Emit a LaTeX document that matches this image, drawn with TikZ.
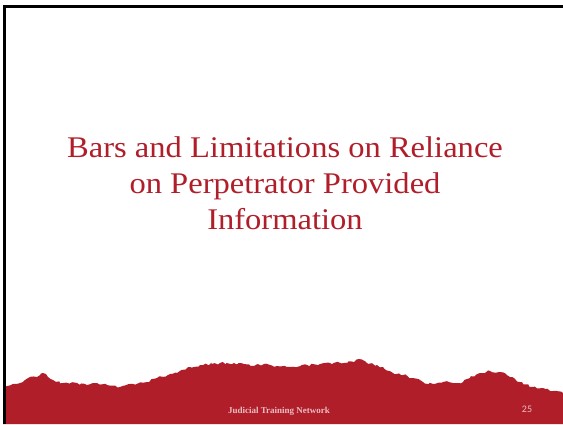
\documentclass[tikz,border=0pt]{standalone}
\usepackage{fontspec}
\usetikzlibrary{decorations.pathmorphing}
\newfontfamily\titlefont{Liberation Serif}
\newfontfamily\footsans{Carlito}
\definecolor{jtnred}{RGB}{176,30,42}
\definecolor{jtnpink}{RGB}{236,190,194}
\newcommand{\widetitle}[1]{\scalebox{1.085}[1]{#1}}
\begin{document}
\begin{tikzpicture}[x=1pt,y=-1pt,
  titleline/.style={anchor=base,inner sep=0pt,text=jtnred,font=\titlefont\fontsize{30}{36}\selectfont},
  footline/.style={anchor=base,inner sep=0pt,text=jtnpink}]
\useasboundingbox (0,0) rectangle (563,424);
\fill[white] (0,0) rectangle (563,424);
\pgfmathsetseed{11}
\fill[jtnred] (3,424) -- (3,388)
  decorate[decoration={random steps,segment length=2.6pt,amplitude=1.3pt}]{
  -- (7,386) -- (13,384) -- (23,382) -- (28,378) -- (37,377) -- (43,373)
  -- (48,377) -- (53,380) -- (63,383) -- (77,383) -- (87,385) -- (97,383)
  -- (107,385) -- (120,387) -- (133,384) -- (147,382) -- (157,378) -- (170,374)
  -- (180,371) -- (190,367) -- (200,365) -- (220,363) -- (234,363) -- (244,364)
  -- (254,366) -- (264,364) -- (277,366) -- (287,367) -- (297,367) -- (307,365)
  -- (320,364) -- (330,363) -- (344,363) -- (354,362) -- (359,359) -- (367,363)
  -- (377,365) -- (383,367) -- (393,373) -- (403,375) -- (413,378) -- (423,382)
  -- (433,384) -- (443,382) -- (453,383) -- (463,382) -- (470,378) -- (480,373)
  -- (490,371) -- (500,372) -- (510,377) -- (520,382) -- (533,387) -- (543,388)
  -- (553,391) -- (563,393)}
  -- (563,424) -- cycle;
\draw[line width=3pt] (4.5,424) -- (4.5,6.8) -- (563,6.8);
\node[titleline] (t1) at (285,157) {\widetitle{Bars and Limitations on Reliance}};
\node[titleline] (t2) at (285,193) {\widetitle{on Perpetrator Provided}};
\node[titleline] (t3) at (285,229) {\widetitle{Information}};
\node[footline,font=\titlefont\bfseries\fontsize{9}{11}\selectfont] (foot) at (279,413) {Judicial Training Network};
\node[footline,font=\footsans\fontsize{10}{12}\selectfont] (page) at (527,412) {25};
\end{tikzpicture}
\end{document}
